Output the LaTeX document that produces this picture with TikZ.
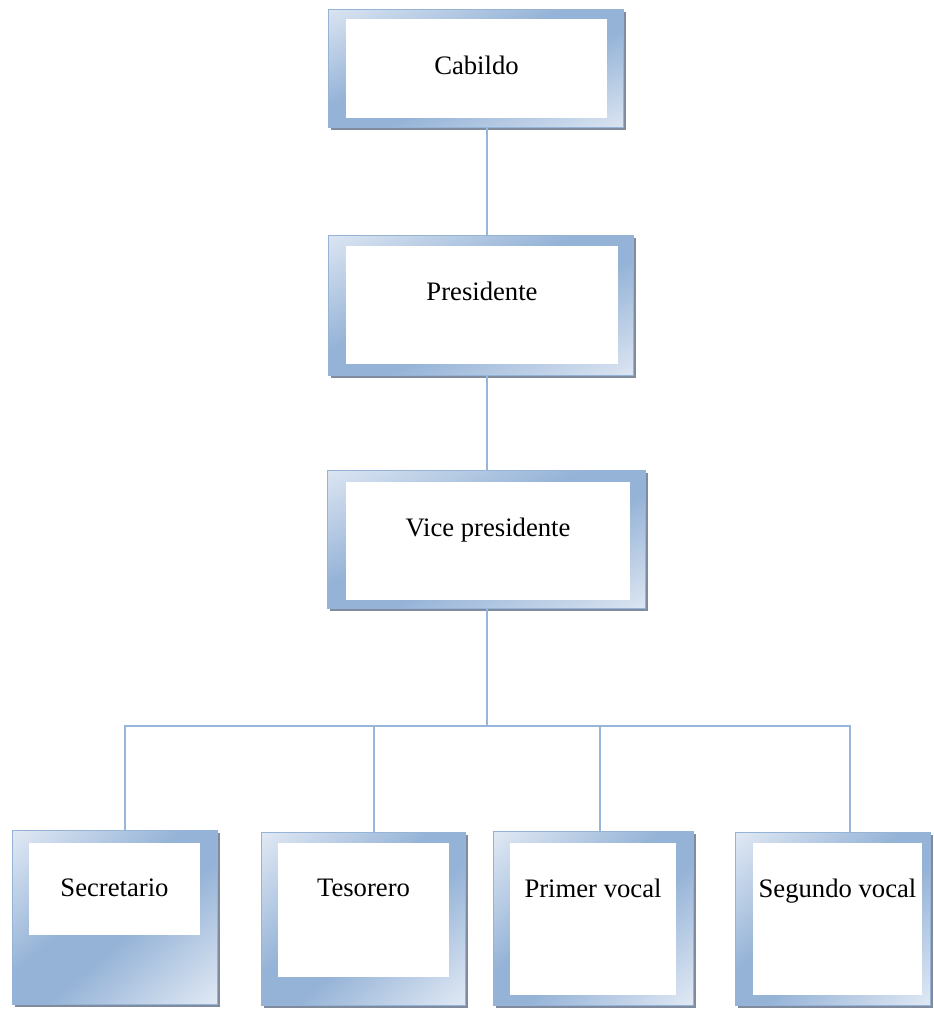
\documentclass[tikz,border=0pt]{standalone}
\usepackage{fontspec}
\setmainfont{Liberation Serif}
\usepackage{tikz}
\usetikzlibrary{positioning,fit,calc,shadows}
\definecolor{framedark}{RGB}{149,179,215}
\definecolor{framelight}{RGB}{222,231,243}
\definecolor{linkblue}{RGB}{152,182,217}
\definecolor{shadowgray}{RGB}{128,140,158}
\pgfdeclarehorizontalshading{framefade}{100bp}{color(0bp)=(framelight); color(16bp)=(framelight);
  color(44bp)=(framedark); color(56bp)=(framedark); color(84bp)=(framelight); color(100bp)=(framelight)}

\begin{document}
\begin{tikzpicture}[
  x=0.75pt, y=-0.75pt,
  framebox/.style={rectangle, inner sep=0pt, draw=framedark, line width=0.6pt,
              shading=framefade, shading angle=#1,
              drop shadow={shadow xshift=2.25pt, shadow yshift=-2.25pt, fill=shadowgray, opacity=1}},
  framebox/.default=-50,
  pane/.style={rectangle, inner sep=0pt, fill=white},
  lbl/.style={inner sep=0pt, anchor=base, font=\fontsize{20}{24}\selectfont},
  link/.style={draw=linkblue, line width=1.6pt}
]
  \useasboundingbox (0,0) rectangle (933,1010);

  % top of the chain
  \node[framebox=-68, fit={(328,9) (623,127)}]   (cab)   {};
  \node[pane, fit={(346,19) (607,118)}]          (cabin) {};
  \node[lbl] at ($(cabin.north)+(0,56)$)         {Cabildo};

  \node[framebox=-65, fit={(328,235) (633,375)}] (pres)   {};
  \node[pane, fit={(346,246) (618,364)}]         (presin) {};
  \node[lbl] at ($(presin.north)+(0,55)$)        {Presidente};

  \node[framebox=-66, fit={(327,470) (645,608)}] (vp)   {};
  \node[pane, fit={(346,482) (630,600)}]         (vpin) {};
  \node[lbl] at ($(vpin.north)+(0,55)$)          {Vice presidente};

  % bottom row
  \node[framebox, fit={(12,830) (217,1004)}]  (sec)   {};
  \node[pane, fit={(29,843) (200,935)}]       (secin) {};
  \node[lbl] at ($(secin.north)+(0,54)$)      {Secretario};

  \node[framebox, fit={(261,832) (465,1005)}] (tes)   {};
  \node[pane, fit={(278,843) (449,977)}]      (tesin) {};
  \node[lbl] at ($(tesin.north)+(0,54)$)      {Tesorero};

  \node[framebox, fit={(493,831) (693,1005)}] (pv)   {};
  \node[pane, fit={(510,843) (676,995)}]      (pvin) {};
  \node[lbl] at ($(pvin.north)+(0,55)$)       {Primer vocal};

  \node[framebox, fit={(735,832) (930,1005)}] (sv)   {};
  \node[pane, fit={(753,843) (922,995)}]      (svin) {};
  \node[lbl] at ($(svin.north)+(0,55)$)       {Segundo vocal};

  % connectors
  \coordinate (spine) at (487,726);
  \coordinate (d1) at (125,726);
  \coordinate (d2) at (374,726);
  \coordinate (d3) at (600,726);
  \coordinate (d4) at (850,726);

  \draw[link] (cab.south -| spine)  -- (pres.north -| spine);
  \draw[link] (pres.south -| spine) -- (vp.north -| spine);
  \draw[link] (vp.south -| spine)   -- (spine);
  \draw[link] (d1 |- sec.north) -- (d1) -- (d4) -- (d4 |- sv.north);
  \draw[link] (d2) -- (d2 |- tes.north);
  \draw[link] (d3) -- (d3 |- pv.north);
\end{tikzpicture}
\end{document}
